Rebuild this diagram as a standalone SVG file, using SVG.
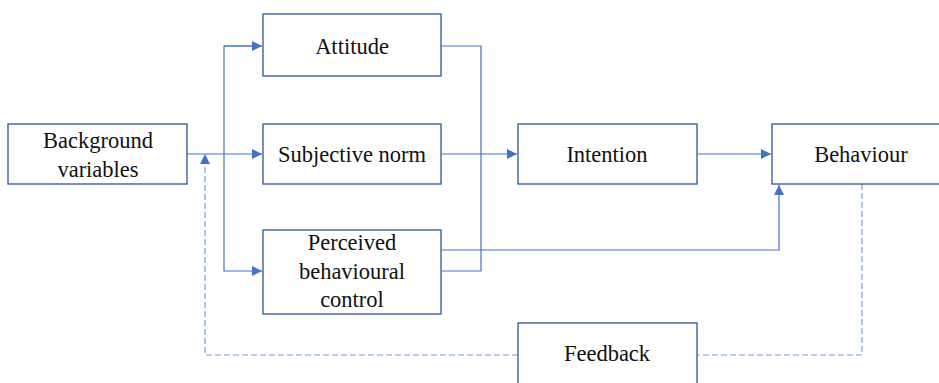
<svg xmlns="http://www.w3.org/2000/svg" width="939" height="383" viewBox="0 0 939 383">
<style>
.box{fill:#fff;stroke:#2F5597;stroke-width:1.3}
.t{font-family:'Liberation Serif','DejaVu Serif',serif;font-size:22.5px;fill:#111;text-anchor:middle}
.c{fill:none;stroke:#4472C4;stroke-width:1.2}
.d{fill:none;stroke:#7F9FD8;stroke-width:1.2;stroke-dasharray:6 3}
</style>
<defs>
<marker id="a" viewBox="0 0 10 10" refX="10" refY="5" markerWidth="10" markerHeight="10" markerUnits="userSpaceOnUse" orient="auto">
<path d="M0,0 L10,5 L0,10 z" fill="#4472C4"/>
</marker>
</defs>
<g id="connectors">
<line class="c" x1="187" y1="154" x2="262" y2="154" marker-end="url(#a)"/>
<polyline class="c" points="262,46 224,46 224,271 262,271" marker-end="url(#a)"/>
<line class="c" x1="224" y1="46" x2="262" y2="46" marker-end="url(#a)"/>
<polyline class="c" points="441,46 481,46 481,271 441,271"/>
<line class="c" x1="441" y1="154" x2="517" y2="154" marker-end="url(#a)"/>
<polyline class="c" points="441,250 779,250 779,185" marker-end="url(#a)"/>
<line class="c" x1="697" y1="154" x2="771" y2="154" marker-end="url(#a)"/>
<polyline class="d" points="862,184 862,355 697,355"/>
<polyline class="d" points="518,355 205,355 205,156"/>
<path d="M200,164 L205,154 L210,164 z" fill="#4472C4"/>
</g>
<g id="background"><rect class="box" x="8" y="124" width="179" height="60"/><text class="t" x="98" y="148" font-family="Liberation Serif">Background</text><text class="t" x="98" y="177">variables</text></g>
<g id="attitude"><rect class="box" x="263" y="14" width="178" height="62"/><text class="t" x="352" y="54">Attitude</text></g>
<g id="subjective"><rect class="box" x="263" y="124" width="178" height="60"/><text class="t" x="352" y="162">Subjective norm</text></g>
<g id="perceived"><rect class="box" x="263" y="230" width="178" height="84"/><text class="t" x="352" y="250">Perceived</text><text class="t" x="352" y="279">behavioural</text><text class="t" x="352" y="307">control</text></g>
<g id="intention"><rect class="box" x="518" y="124" width="179" height="60"/><text class="t" x="607" y="162">Intention</text></g>
<g id="behaviour"><rect class="box" x="772" y="124" width="180" height="60"/><text class="t" x="861" y="162">Behaviour</text></g>
<g id="feedback"><rect class="box" x="518" y="323" width="179" height="70"/><text class="t" x="607" y="361">Feedback</text></g>
</svg>
